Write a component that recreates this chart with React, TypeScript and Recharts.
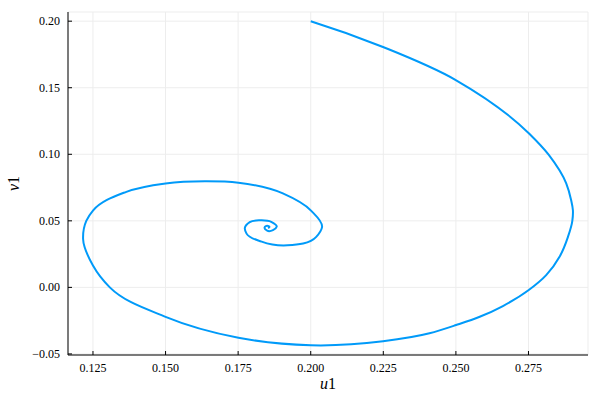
import { LineChart, Line, XAxis, YAxis, CartesianGrid, Label } from 'recharts';

// phase path (u1, v1)
const u1 = [
  0.2, 0.2249, 0.2501, 0.2752, 0.282, 0.288, 0.2897, 0.2903, 0.2901, 0.2886,
  0.2857, 0.2811, 0.2751, 0.2662, 0.2582, 0.2501, 0.2409, 0.2249, 0.2, 0.1751,
  0.15, 0.1308, 0.125, 0.1216, 0.1227, 0.125, 0.1365, 0.15, 0.1635, 0.1751,
  0.1904, 0.2001, 0.2039, 0.2019, 0.192, 0.1831, 0.1779, 0.1773, 0.179, 0.1824,
  0.1864, 0.1883, 0.187, 0.185, 0.1841, 0.185, 0.1858, 0.1853,
];
const v1 = [
  0.2, 0.1806, 0.1556, 0.1156, 0.0995, 0.0781, 0.0655, 0.058, 0.05, 0.038,
  0.023, 0.0092, -0.002, -0.014, -0.0221, -0.0283, -0.0345, -0.0405, -0.0435, -0.0378,
  -0.0221, 0.0, 0.0164, 0.0363, 0.05, 0.0577, 0.0718, 0.0781, 0.0798, 0.0787,
  0.0706, 0.0577, 0.0453, 0.038, 0.0316, 0.0344, 0.0404, 0.0445, 0.049, 0.0504,
  0.0492, 0.0456, 0.043, 0.0426, 0.0449, 0.0463, 0.0454, 0.0445,
];

const xTicks = [0.125, 0.15, 0.175, 0.2, 0.225, 0.25, 0.275];
const yTicks = [-0.05, 0, 0.05, 0.1, 0.15, 0.2];

const data = u1.map((u, i) => ({ u, v: v1[i] }));

const font = "'Liberation Serif', 'DejaVu Serif', serif";

// parametric cubic through the points, tangents from a chord-length parabola
// (Bessel), so uneven point spacing does not put kinks in the spiral
const smoothCurve = (context: any) => {
  let pts: number[][] = [];
  return {
    areaStart() {},
    areaEnd() {},
    lineStart() {
      pts = [];
    },
    point(x: number, y: number) {
      pts.push([+x, +y]);
    },
    lineEnd() {
      const n = pts.length;
      if (!n) return;
      context.moveTo(pts[0][0], pts[0][1]);
      if (n === 1) return;
      const d: number[] = [];
      const u: number[][] = [];
      for (let i = 0; i < n - 1; i++) {
        const dx = pts[i + 1][0] - pts[i][0];
        const dy = pts[i + 1][1] - pts[i][1];
        const len = Math.max(Math.hypot(dx, dy), 1e-9);
        d.push(len);
        u.push([dx / len, dy / len]);
      }
      const m: number[][] = new Array(n);
      for (let i = 1; i < n - 1; i++) {
        const a = d[i - 1];
        const b = d[i];
        m[i] = [(b * u[i - 1][0] + a * u[i][0]) / (a + b), (b * u[i - 1][1] + a * u[i][1]) / (a + b)];
      }
      if (n === 2) {
        m[0] = u[0];
        m[1] = u[0];
      } else {
        m[0] = [2 * u[0][0] - m[1][0], 2 * u[0][1] - m[1][1]];
        m[n - 1] = [2 * u[n - 2][0] - m[n - 2][0], 2 * u[n - 2][1] - m[n - 2][1]];
      }
      for (let i = 0; i < n - 1; i++) {
        const h = d[i] / 3;
        context.bezierCurveTo(
          pts[i][0] + m[i][0] * h,
          pts[i][1] + m[i][1] * h,
          pts[i + 1][0] - m[i + 1][0] * h,
          pts[i + 1][1] - m[i + 1][1] * h,
          pts[i + 1][0],
          pts[i + 1][1]
        );
      }
    },
  };
};

const XTick = ({ x, y, payload }: any) => (
  <g>
    <line x1={x} y1={y} x2={x} y2={y - 4} stroke="#000" />
    <text x={x} y={y + 17} textAnchor="middle" fontFamily={font} fontSize={12} fill="#000">
      {payload.value.toFixed(3)}
    </text>
  </g>
);

const YTick = ({ x, y, payload }: any) => (
  <g>
    <line x1={x} y1={y} x2={x + 4} y2={y} stroke="#000" />
    <text x={x - 8} y={y + 4} textAnchor="end" fontFamily={font} fontSize={12} fill="#000">
      {payload.value.toFixed(2).replace('-', '\u2212')}
    </text>
  </g>
);

export default function App() {
  return (
    <div style={{ position: 'absolute', left: 0, top: 0, background: '#fff' }}>
      <LineChart width={600} height={400} data={data} margin={{ top: 12, right: 12, bottom: 0, left: 0 }}>
        <CartesianGrid stroke="#ededed" />
        <XAxis
          type="number"
          dataKey="u"
          domain={[0.1164, 0.2955]}
          ticks={xTicks}
          allowDataOverflow
          height={45}
          tickSize={0}
          tickMargin={0}
          tickLine={false}
          tick={<XTick />}
          axisLine={{ stroke: '#000' }}
        >
          <Label
            content={({ viewBox }: any) => (
              <text x={viewBox.x + viewBox.width / 2} y={viewBox.y + 34} textAnchor="middle" fontFamily={font} fontSize={16}>
                <tspan fontStyle="italic">u</tspan>1
              </text>
            )}
          />
        </XAxis>
        <YAxis
          type="number"
          domain={[-0.0508, 0.2069]}
          ticks={yTicks}
          allowDataOverflow
          width={68}
          tickSize={0}
          tickMargin={0}
          tickLine={false}
          tick={<YTick />}
          axisLine={{ stroke: '#000' }}
        >
          <Label
            content={({ viewBox }: any) => {
              const cx = 19;
              const cy = viewBox.y + viewBox.height / 2;
              return (
                <text x={cx} y={cy} textAnchor="middle" transform={`rotate(-90 ${cx} ${cy})`} fontFamily={font} fontSize={16}>
                  <tspan fontStyle="italic">v</tspan>1
                </text>
              );
            }}
          />
        </YAxis>
        <Line
          type={smoothCurve as any}
          dataKey="v"
          stroke="#009af9"
          strokeWidth={2}
          dot={false}
          isAnimationActive={false}
        />
      </LineChart>
    </div>
  );
}
